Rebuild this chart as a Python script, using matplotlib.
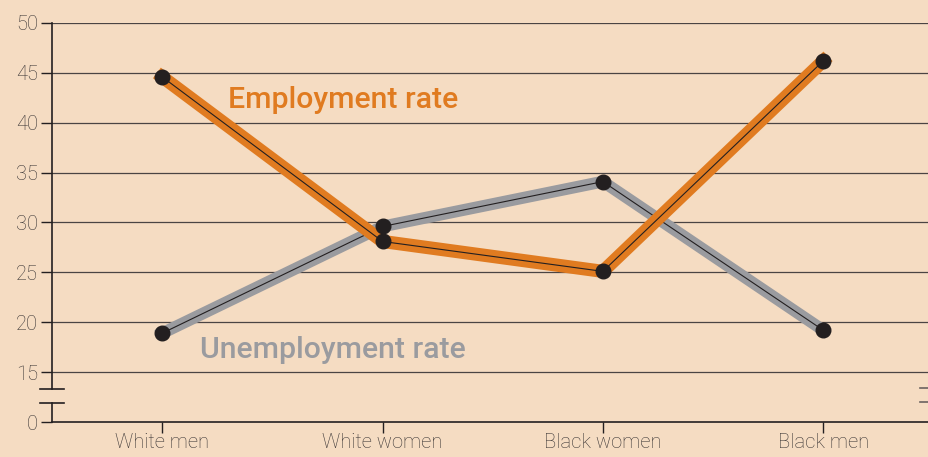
import matplotlib
matplotlib.use("Agg")
import matplotlib.pyplot as plt

groups = ["White men", "White women", "Black women", "Black men"]
employment = [44.6, 28.1, 25.1, 46.2]
unemployment = [18.9, 29.6, 34.1, 19.2]
y_ticks = [10, 15, 20, 25, 30, 35, 40, 45, 50]
y_labels = ["0", "15", "20", "25", "30", "35", "40", "45", "50"]

bg = "#F5DCC2"
orange = "#E07B20"
grey = "#9A9B9F"
ink = "#231F20"

plt.rcParams['font.family'] = ['Roboto', 'DejaVu Sans']

fig = plt.figure(figsize=(9.29, 4.57), dpi=100, facecolor=bg)
ax = fig.add_axes([52 / 929, 1 - 422 / 457, 1 - 52 / 929, (422 - 23) / 457])
ax.set_facecolor(bg)

x = range(len(groups))
# horizontal rules
for t in y_ticks[1:]:
    ax.axhline(t, color="#4a4443", lw=0.9, zorder=1)

ax.plot(x, unemployment, color=grey, lw=8.5, solid_joinstyle="miter", zorder=2)
ax.plot(x, unemployment, color=ink, lw=0.8, zorder=3)
ax.plot(x, employment, color=orange, lw=9.5, solid_joinstyle="miter", zorder=4)
ax.plot(x, employment, color=ink, lw=0.8, zorder=5)
ax.plot(x, unemployment, "o", color=ink, ms=10.5, zorder=6)
ax.plot(x, employment, "o", color=ink, ms=10.5, zorder=6)

ax.text(0.3, 41.5, "Employment rate", color=orange, fontsize=21.8, fontweight="medium",
        va="baseline", ha="left")
ax.text(0.17, 16.4, "Unemployment rate", color=grey, fontsize=21.8, fontweight="medium",
        va="baseline", ha="left")

ax.set_xlim(-0.5, 3.48)
ax.set_ylim(10, 50)
ax.set_xticks(list(x))
ax.set_xticklabels(groups, fontsize=14.5, color="#3a3535", fontweight="light")
ax.set_yticks(y_ticks)
ax.set_yticklabels(y_labels, fontsize=14.5, color="#3a3535", fontweight="light")
ax.tick_params(axis="both", length=8, width=1, color=ink, pad=2)
ax.tick_params(axis="x", pad=0)
for lbl in ax.get_xticklabels() + ax.get_yticklabels():
    lbl.set_path_effects([])

for s in ["top", "right", "left"]:
    ax.spines[s].set_visible(False)
ax.spines["bottom"].set_color(ink)
ax.spines["bottom"].set_linewidth(1.2)

# left axis with break
ax.plot([-0.5, -0.5], [13.3, 50], color=ink, lw=1.2, clip_on=False, zorder=7)
ax.plot([-0.5, -0.5], [10, 11.9], color=ink, lw=1.2, clip_on=False, zorder=7)
dx = 12 / 220
for yb in [13.3, 11.9]:
    ax.plot([-0.5 - dx, -0.5 + dx], [yb, yb], color=ink, lw=1.2, clip_on=False, zorder=7)
    ax.plot([3.48 - 9 / 220, 3.48], [yb + 0.15, yb + 0.15], color="#6a6260", lw=1.2,
            clip_on=False, zorder=7)

fig.savefig("out.png", dpi=100, facecolor=bg)
